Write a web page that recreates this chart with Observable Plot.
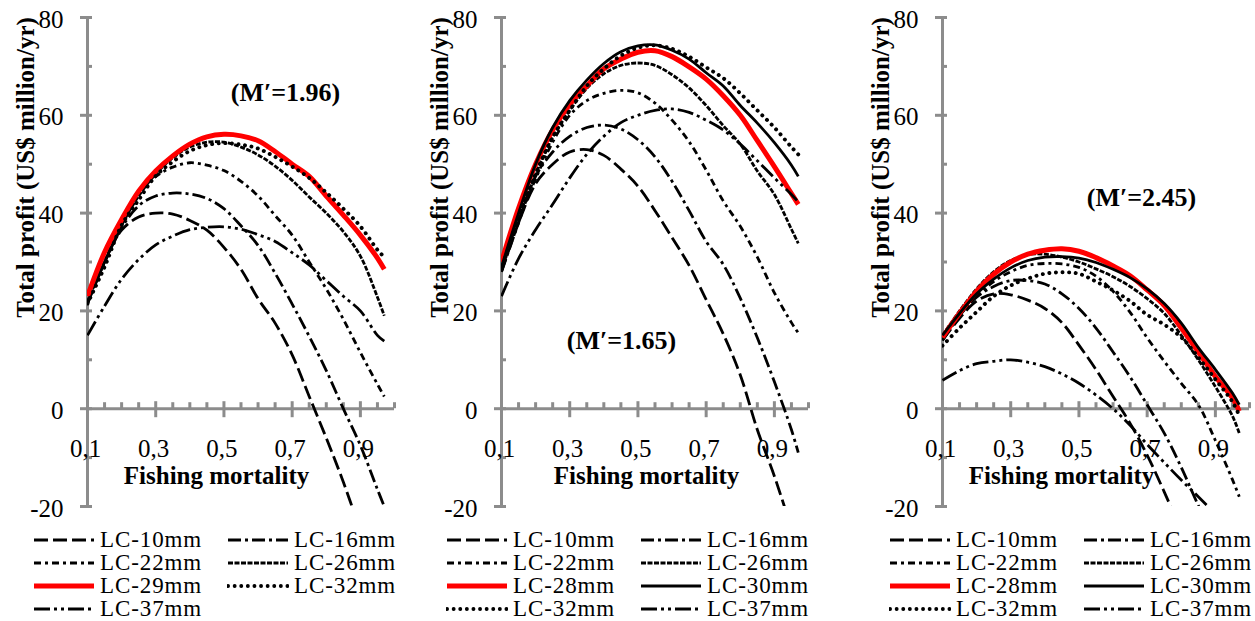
<!DOCTYPE html>
<html><head><meta charset="utf-8">
<script src="https://cdn.jsdelivr.net/npm/d3@7"></script>
<script src="https://cdn.jsdelivr.net/npm/@observablehq/plot@0.6"></script>
<style>
html,body{margin:0;padding:0;background:#fff;overflow:hidden;}
#wrap{position:relative;width:1255px;height:621px;font-family:"Liberation Serif","Times New Roman",serif;color:#000;}
.panel{position:absolute;top:0;}
.legend{position:absolute;display:grid;grid-template-columns:194px 194px;}
.item{display:flex;align-items:center;height:23px;font-size:23px;line-height:23px;white-space:nowrap;letter-spacing:0.9px;}
.item svg{margin-right:5px;flex:none;}
</style></head><body><div id="wrap"></div>
<script>
// Fishing mortality (x values)
const F = [0.1,0.15,0.2,0.25,0.3,0.35,0.4,0.45,0.5,0.55,0.6,0.65,0.7,0.75,0.8,0.85,0.9,0.95,0.97];

// Panel 1 (M′=1.96) — total profit, US$ million/yr
const p1_LC10 = [21.5,30,36.5,39.2,40,39.8,38.5,36.5,33,28.5,22.5,17.5,11,2.5,-6,-15,-25];
const p1_LC16 = [21.5,30,37,41.5,43.5,44.1,43.9,43,40.9,37.4,33.4,27.7,21.4,14.8,7.8,0,-7.5,-16.5,-20];
const p1_LC22 = [21.5,30,38,44,47.5,49.4,50.3,49.8,48.7,46.5,43.5,39.5,35.5,30,24.5,18.3,11.5,5,2.5];
const p1_LC26 = [22,30,37.5,43.5,48,51.3,53.5,54.5,54.5,53.5,51.9,49.6,46.7,43.3,40,36.2,31.2,22.8,19];
const p1_LC29 = [23,32,38.7,44.5,48.6,51.7,54.1,55.6,56.1,55.8,54.8,52.6,50,47.5,43.5,39.6,35.5,30.8,28.5];
const p1_LC32 = [21.5,29,37.5,42.7,47.6,50.5,52.7,53.9,54.3,54,53.2,51.5,49.5,47.2,44.2,40.9,37.3,32.5,31];
const p1_LC37 = [15,21,26.5,30.5,33.5,35.3,36.6,37.1,37.2,36.7,35.6,34.2,31.9,29.4,26.2,23,20,15,13.8];

// Panel 2 (M′=1.65)
const p2_LC10 = [28,38,46,50,52.5,53,51.8,49,45.5,40.5,35,29.3,22.3,15.3,6.9,-4.3,-13.8,-24.5];
const p2_LC16 = [28,38,47.5,52.5,55.7,57.5,58,57.2,55,51.5,46.5,40.5,34.2,29.5,22.6,14.5,5.5,-4.3,-9];
const p2_LC22 = [28.5,38.5,47,54.5,60,63,64.5,65.1,64.6,62.5,59,54.6,48.8,42.5,37.3,31,23.7,17.6,15.5];
const p2_LC26 = [28.5,39,48,55.5,61,65.5,68.5,70.2,70.7,70.2,68.3,65.6,62,57.9,54.1,48.6,43.8,36.7,33.8];
const p2_LC28 = [30,41,50,57,62.2,66,69.5,71.5,72.9,73.2,72,69.9,67.4,64,60,54.8,49.5,44,41.8];
const p2_LC30 = [29,40,50,57.5,63,67.2,70.6,73,74.2,74.4,73.3,71.5,68.7,66,62,58.4,54.4,49.8,47.5];
const p2_LC32 = [28.5,39,48,55.5,61,66,69.5,72.2,73.8,74.3,73.6,72,69.8,67.6,64.5,61,57.5,53.5,52];
const p2_LC37 = [23,30.7,36.6,41.8,47.2,52,55.7,58.5,60,61,61.3,60.6,59,57,54.1,50.7,47.2,43.8,42.3];

// Panel 3 (M′=2.45)
const p3_LC10 = [14,18.5,22,23.5,23.3,22.2,20.5,17.6,13,8,2.5,-3,-9.5,-17,-25];
const p3_LC16 = [14,19,22.8,25,26.2,26.2,25.5,23.5,20.5,16.5,11.6,6.5,0.8,-5,-12,-19.8,-27];
const p3_LC22 = [14,19,23,26,28,29.3,29.7,29.6,28.9,27.1,24,19.7,14.5,9.7,5.2,0.8,-6.5,-14.5,-18];
const p3_LC26 = [15,20,24.5,28,30.3,31.5,31.6,31,30,28.6,27,25,22.5,19.5,15,10,4.5,-1.5,-5];
const p3_LC28 = [14.6,19.5,24,27.5,30,31.6,32.4,32.7,32.2,30.9,29.2,27.2,24.3,21.1,16.5,11.6,6.6,2.2,-0.5];
const p3_LC30 = [15,19.5,23.5,26.5,28.8,30.3,31,31.1,30.8,29.9,28.5,26.8,24.5,21.5,17.5,12.5,8,3.2,0.8];
const p3_LC32 = [12.9,16.5,19.8,23,25.2,26.6,27.6,27.9,27.6,26,24.2,22,19.2,17.2,14.6,10.5,6,1.4,-1.4];
const p3_LC37 = [5.8,7.8,9.2,9.7,10,9.5,8.6,7.1,5.2,2.8,0,-3.4,-7.3,-11,-14.6,-18,-21.5];

// Axis ticks
const yMajor = [-20,0,20,40,60,80];
const yMinor = [-10,10,30,50,70];
const xLabels = [0.1,0.3,0.5,0.7,0.9];
const xMajor = [0.3,0.5,0.7,0.9];
const xMinor = [0.15,0.2,0.25,0.35,0.4,0.45,0.55,0.6,0.65,0.75,0.8,0.85,0.95,1.0];

// Line styles
const RED = "#ff0000";
const STYLE = {
  "LC-10mm": {stroke:"#000", width:2.8, dash:"14,5"},
  "LC-16mm": {stroke:"#000", width:2.8, dash:"13,4,3,4"},
  "LC-22mm": {stroke:"#000", width:2.8, dash:"7,4,3,4"},
  "LC-26mm": {stroke:"#000", width:2.8, dash:"5,1.5"},
  "LC-28mm": {stroke:RED, width:5, dash:null},
  "LC-29mm": {stroke:RED, width:5, dash:null},
  "LC-30mm": {stroke:"#000", width:2.8, dash:null},
  "LC-32mm": {stroke:"#000", width:3.9, dash:"0.1,6.5", cap:"round"},
  "LC-37mm": {stroke:"#000", width:2.8, dash:"16,4,3,4,3,4"}
};
const GRAY = "#8c8c8c";

const panels = [
  {left:0, width:414, note:"(M′=1.96)", noteDx:198, noteDy:75, xlabDx:129,
   legendLeft:33,
   series:[["LC-10mm",p1_LC10],["LC-16mm",p1_LC16],["LC-22mm",p1_LC22],["LC-26mm",p1_LC26],
           ["LC-29mm",p1_LC29],["LC-32mm",p1_LC32],["LC-37mm",p1_LC37]]},
  {left:414, width:441, note:"(M′=1.65)", noteDx:120, noteDy:323, xlabDx:145,
   legendLeft:446,
   series:[["LC-10mm",p2_LC10],["LC-16mm",p2_LC16],["LC-22mm",p2_LC22],["LC-26mm",p2_LC26],
           ["LC-28mm",p2_LC28],["LC-30mm",p2_LC30],["LC-32mm",p2_LC32],["LC-37mm",p2_LC37]]},
  {left:855, width:400, note:"(M′=2.45)", noteDx:199, noteDy:180, xlabDx:119,
   legendLeft:889,
   series:[["LC-10mm",p3_LC10],["LC-16mm",p3_LC16],["LC-22mm",p3_LC22],["LC-26mm",p3_LC26],
           ["LC-28mm",p3_LC28],["LC-30mm",p3_LC30],["LC-32mm",p3_LC32],["LC-37mm",p3_LC37]]}
];

const wrap = document.getElementById("wrap");
const ML = 87, XR = 307;
const TXT = {textAnchor:"middle", lineAnchor:"middle", fill:"#000"};

panels.forEach(p => {
  const marks = [
    Plot.ruleX([0.1], {y1:-20, y2:80, stroke:GRAY, strokeWidth:3}),
    Plot.ruleY(yMajor, {y:d=>d, x1:0.1, x2:0.1, insetLeft:-7, insetRight:-5, stroke:GRAY, strokeWidth:3}),
    Plot.ruleY(yMinor, {y:d=>d, x1:0.1, x2:0.1, insetRight:-5, stroke:GRAY, strokeWidth:3}),
    Plot.ruleY([0], {x1:0.1, x2:1.0, stroke:GRAY, strokeWidth:3}),
    Plot.ruleX(xMajor, {x:d=>d, y1:0, y2:0, insetTop:-7, insetBottom:-9, stroke:GRAY, strokeWidth:3}),
    Plot.ruleX(xMinor, {x:d=>d, y1:0, y2:0, insetTop:-6, stroke:GRAY, strokeWidth:3})
  ];
  p.series.forEach(([name, vals]) => {
    const st = STYLE[name];
    const rows = vals.map((v, i) => ({F: F[i], P: v}));
    marks.push(Plot.line(rows, {x:"F", y:"P", stroke:st.stroke, strokeWidth:st.width,
      strokeDasharray:st.dash || undefined, strokeLinecap:st.cap || "butt",
      curve:"catmull-rom", clip:true}));
  });
  marks.push(
    Plot.text(yMajor, {x:0.1, y:d=>d, text:d=>String(d), dx:-24, dy:2, textAnchor:"end", fontSize:25, fill:"#000"}),
    Plot.text(xLabels, {x:d=>d, y:0, text:d=>d.toFixed(1).replace(".", ","), dx:-2, dy:40, fontSize:25, fill:"#000"}),
    Plot.text(["Total profit (US$ million/yr)"], {...TXT, frameAnchor:"top-left", dx:-62, dy:150, rotate:-90, fontWeight:"bold", fontSize:25}),
    Plot.text(["Fishing mortality"], {...TXT, frameAnchor:"top-left", dx:p.xlabDx, dy:458, fontWeight:"bold", fontSize:25}),
    Plot.text([p.note], {...TXT, frameAnchor:"top-left", dx:p.noteDx, dy:p.noteDy, fontWeight:"bold", fontSize:26})
  );
  const svg = Plot.plot({
    width:p.width, height:520,
    marginLeft:ML, marginRight:p.width - ML - XR, marginTop:17, marginBottom:14,
    x:{domain:[0.1,1.0], axis:null},
    y:{domain:[-20,80], axis:null},
    style:{fontFamily:'"Liberation Serif","Times New Roman",serif', background:"transparent", overflow:"visible", color:"#000"},
    marks
  });
  svg.classList.add("panel");
  svg.style.left = p.left + "px";
  wrap.appendChild(svg);

  // legend
  const lg = document.createElement("div");
  lg.className = "legend";
  lg.style.left = p.legendLeft + "px";
  lg.style.top = "528px";
  p.series.forEach(([name]) => {
    const st = STYLE[name];
    const item = document.createElement("div");
    item.className = "item";
    const ns = "http://www.w3.org/2000/svg";
    const s = document.createElementNS(ns, "svg");
    s.setAttribute("width", 62); s.setAttribute("height", 12);
    const l = document.createElementNS(ns, "line");
    l.setAttribute("x1", 1); l.setAttribute("x2", 61); l.setAttribute("y1", 6); l.setAttribute("y2", 6);
    l.setAttribute("stroke", st.stroke);
    l.setAttribute("stroke-width", st.stroke === RED ? 5 : (st.cap ? 3.8 : 3.2));
    if (st.dash) l.setAttribute("stroke-dasharray", st.dash);
    if (st.cap) l.setAttribute("stroke-linecap", st.cap);
    s.appendChild(l);
    item.appendChild(s);
    const t = document.createElement("span");
    t.textContent = name;
    item.appendChild(t);
    lg.appendChild(item);
  });
  wrap.appendChild(lg);
});
</script>
</body></html>
